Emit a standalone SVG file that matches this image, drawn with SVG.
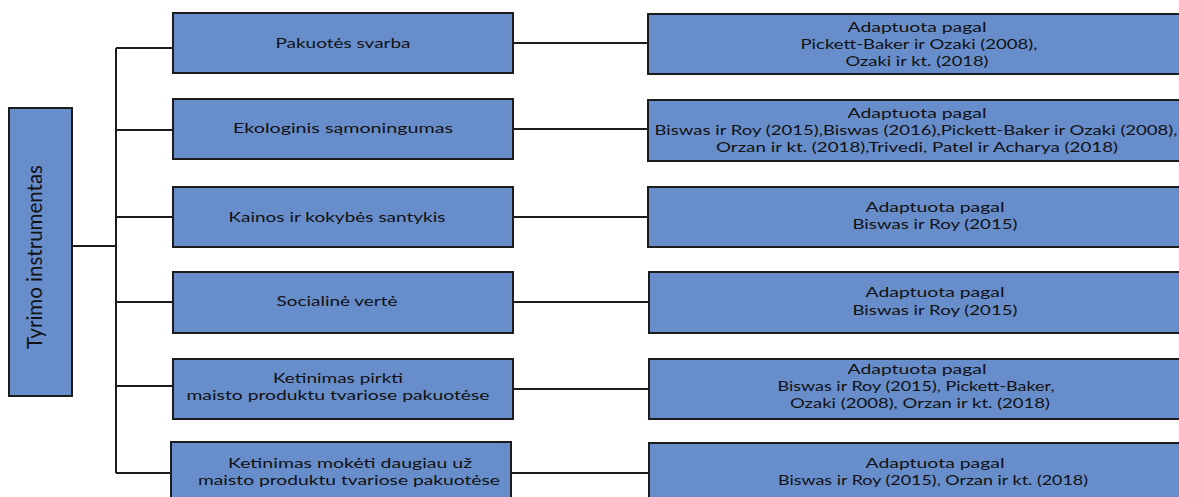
<svg xmlns="http://www.w3.org/2000/svg" width="1179" height="497" viewBox="0 0 1179 497">
  <style>
    .box { fill: #678dcb; stroke: #1c1c1c; stroke-width: 2; }
    .lbl { font-family: Lato, "Liberation Sans", sans-serif; font-size: 14px; fill: #121212; text-anchor: middle; }
    .title { font-family: Lato, "Liberation Sans", sans-serif; font-size: 22px; fill: #121212; text-anchor: middle; }
    .wire { fill: none; stroke: #1c1c1c; stroke-width: 2; }
  </style>

  <!-- connectors -->
  <g id="connectors">
    <path class="wire" d="M72 246 H116"/>
    <path class="wire" d="M116 48 V473"/>
    <path class="wire" d="M116 48 H173"/>
    <path class="wire" d="M116 130 H173"/>
    <path class="wire" d="M116 217 H173"/>
    <path class="wire" d="M116 302 H173"/>
    <path class="wire" d="M116 386 H173"/>
    <path class="wire" d="M116 473 H171"/>
    <path class="wire" d="M513 43 H648"/>
    <path class="wire" d="M513 129 H648"/>
    <path class="wire" d="M513 217 H648"/>
    <path class="wire" d="M513 302 H649"/>
    <path class="wire" d="M513 389 H649"/>
    <path class="wire" d="M511 473 H649"/>
  </g>

  <!-- root node -->
  <g id="root">
    <rect class="box" x="9" y="108" width="63" height="288"/>
    <text class="title" transform="translate(42,257) rotate(-90)" textLength="184" lengthAdjust="spacingAndGlyphs">Tyrimo instrumentas</text>
  </g>

  <!-- construct nodes -->
  <g id="pakuotes-svarba">
    <rect class="box" x="173" y="13" width="340" height="60"/>
    <text class="lbl" x="343" y="48" textLength="135" lengthAdjust="spacingAndGlyphs">Pakuotės svarba</text>
  </g>
  <g id="ekologinis-samoningumas">
    <rect class="box" x="173" y="99" width="340" height="60"/>
    <text class="lbl" x="343" y="133" textLength="220" lengthAdjust="spacingAndGlyphs">Ekologinis sąmoningumas</text>
  </g>
  <g id="kainos-kokybes-santykis">
    <rect class="box" x="173" y="187" width="340" height="60"/>
    <text class="lbl" x="337" y="222" textLength="217" lengthAdjust="spacingAndGlyphs">Kainos ir kokybės santykis</text>
  </g>
  <g id="socialine-verte">
    <rect class="box" x="173" y="272" width="340" height="61"/>
    <text class="lbl" x="337" y="306" textLength="121" lengthAdjust="spacingAndGlyphs">Socialinė vertė</text>
  </g>
  <g id="ketinimas-pirkti">
    <rect class="box" x="173" y="359" width="340" height="60"/>
    <text class="lbl" x="338" y="383" textLength="130" lengthAdjust="spacingAndGlyphs">Ketinimas pirkti</text>
    <text class="lbl" x="338" y="400" textLength="303" lengthAdjust="spacingAndGlyphs">maisto produktu tvariose pakuotėse</text>
  </g>
  <g id="ketinimas-moketi">
    <rect class="box" x="171" y="442" width="340" height="62"/>
    <text class="lbl" x="350" y="468" textLength="244" lengthAdjust="spacingAndGlyphs">Ketinimas mokėti daugiau už</text>
    <text class="lbl" x="349" y="485" textLength="302" lengthAdjust="spacingAndGlyphs">maisto produktu tvariose pakuotėse</text>
  </g>

  <!-- source nodes -->
  <g id="src-pakuotes">
    <rect class="box" x="648" y="14" width="540" height="60"/>
    <text class="lbl" x="917" y="32" textLength="139" lengthAdjust="spacingAndGlyphs">Adaptuota pagal</text>
    <text class="lbl" x="919" y="49" textLength="237" lengthAdjust="spacingAndGlyphs">Pickett-Baker ir Ozaki (2008),</text>
    <text class="lbl" x="917" y="66" textLength="143" lengthAdjust="spacingAndGlyphs">Ozaki ir kt. (2018)</text>
  </g>
  <g id="src-ekologinis">
    <rect class="box" x="648" y="100" width="540" height="61"/>
    <text class="lbl" x="917" y="118" textLength="139" lengthAdjust="spacingAndGlyphs">Adaptuota pagal</text>
    <text class="lbl" x="916" y="135" textLength="523" lengthAdjust="spacingAndGlyphs">Biswas ir Roy (2015),Biswas (2016),Pickett-Baker ir Ozaki (2008),</text>
    <text class="lbl" x="917" y="152" textLength="402" lengthAdjust="spacingAndGlyphs">Orzan ir kt. (2018),Trivedi, Patel ir Acharya (2018)</text>
  </g>
  <g id="src-kainos">
    <rect class="box" x="648" y="187" width="540" height="60"/>
    <text class="lbl" x="935" y="212" textLength="139" lengthAdjust="spacingAndGlyphs">Adaptuota pagal</text>
    <text class="lbl" x="935" y="229" textLength="165" lengthAdjust="spacingAndGlyphs">Biswas ir Roy (2015)</text>
  </g>
  <g id="src-socialine">
    <rect class="box" x="649" y="272" width="540" height="61"/>
    <text class="lbl" x="935" y="297" textLength="139" lengthAdjust="spacingAndGlyphs">Adaptuota pagal</text>
    <text class="lbl" x="935" y="315" textLength="165" lengthAdjust="spacingAndGlyphs">Biswas ir Roy (2015)</text>
  </g>
  <g id="src-pirkti">
    <rect class="box" x="649" y="359" width="540" height="60"/>
    <text class="lbl" x="917" y="374" textLength="139" lengthAdjust="spacingAndGlyphs">Adaptuota pagal</text>
    <text class="lbl" x="916" y="391" textLength="277" lengthAdjust="spacingAndGlyphs">Biswas ir Roy (2015), Pickett-Baker,</text>
    <text class="lbl" x="920" y="408" textLength="260" lengthAdjust="spacingAndGlyphs">Ozaki (2008), Orzan ir kt. (2018)</text>
  </g>
  <g id="src-moketi">
    <rect class="box" x="649" y="443" width="540" height="62"/>
    <text class="lbl" x="935" y="468" textLength="139" lengthAdjust="spacingAndGlyphs">Adaptuota pagal</text>
    <text class="lbl" x="933" y="485" textLength="310" lengthAdjust="spacingAndGlyphs">Biswas ir Roy (2015), Orzan ir kt. (2018)</text>
  </g>
</svg>
